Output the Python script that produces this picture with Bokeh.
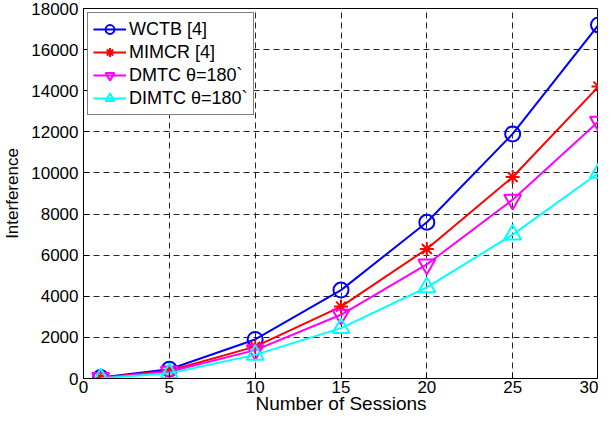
from bokeh.plotting import figure
from bokeh.models import Legend, LegendItem, FixedTicker
from bokeh.embed import file_html
from bokeh.resources import INLINE

sessions = [1, 5, 10, 15, 20, 25, 30]
wctb = [50, 450, 1900, 4300, 7600, 11900, 17200]
mimcr = [40, 380, 1550, 3500, 6300, 9800, 14200]
dmtc = [30, 330, 1380, 3100, 5550, 8700, 12500]
dimtc = [10, 260, 1150, 2450, 4430, 7000, 10000]

x_ticks = [0, 5, 10, 15, 20, 25, 30]
y_ticks = [0, 2000, 4000, 6000, 8000, 10000, 12000, 14000, 16000, 18000]

FONT = "Liberation Sans"

p = figure(width=598, height=416, x_range=(0, 30), y_range=(0, 18000),
           output_backend="svg", toolbar_location=None,
           min_border_left=83, min_border_right=0, min_border_top=8, min_border_bottom=38,
           x_axis_label="Number of Sessions", y_axis_label="Interference")
p.background_fill_color = "white"
p.border_fill_color = "white"
p.outline_line_color = "black"
p.outline_line_width = 1

for ax in (p.xaxis[0], p.yaxis[0]):
    ax.major_tick_in = 6
    ax.major_tick_out = 0
    ax.minor_tick_in = 0
    ax.minor_tick_out = 0
    ax.axis_line_color = "black"
    ax.major_tick_line_color = "black"
    ax.major_label_text_font = FONT
    ax.major_label_text_font_size = "17px"
    ax.major_label_text_color = "black"
    ax.axis_label_text_font = FONT
    ax.axis_label_text_font_style = "normal"
    ax.axis_label_text_color = "black"

p.xaxis[0].axis_label_text_font_size = "19px"
p.yaxis[0].axis_label_text_font_size = "17px"
p.xaxis[0].ticker = FixedTicker(ticks=x_ticks)
p.yaxis[0].ticker = FixedTicker(ticks=y_ticks)
p.xaxis[0].major_label_standoff = 2
p.xaxis[0].axis_label_standoff = -3
p.yaxis[0].major_label_standoff = 5
p.yaxis[0].axis_label_standoff = 6

for g in (p.xgrid[0], p.ygrid[0]):
    g.grid_line_color = "black"
    g.grid_line_dash = "6 4"
    g.grid_line_width = 1
    g.grid_line_alpha = 0.85

items = []
series = [
    ("WCTB [4]", wctb, "#0000ff", "circle", 15),
    ("MIMCR [4]", mimcr, "#ff0000", "asterisk", 14),
    ("DMTC \u03b8=180`", dmtc, "#ff00ff", "inverted_triangle", 17),
    ("DIMTC \u03b8=180`", dimtc, "#00ffff", "triangle", 17),
]
for label, ys, color, marker, size in series:
    l = p.line(sessions, ys, line_color=color, line_width=2)
    m = p.scatter(sessions, ys, marker=marker, size=size, line_color=color,
                  fill_color=None, line_width=2)
    items.append(LegendItem(label=label, renderers=[l, m]))

legend = Legend(items=items, location="top_left")
legend.margin = 4
legend.padding = 5
legend.spacing = 1
legend.glyph_width = 33
legend.glyph_height = 22
legend.label_height = 22
legend.label_standoff = 3
legend.label_text_font = FONT
legend.label_text_font_size = "18px"
legend.label_text_color = "black"
legend.border_line_color = "black"
legend.border_line_width = 1
legend.background_fill_color = "white"
legend.background_fill_alpha = 1
p.add_layout(legend)

open("out.html", "w").write(file_html(p, INLINE))
